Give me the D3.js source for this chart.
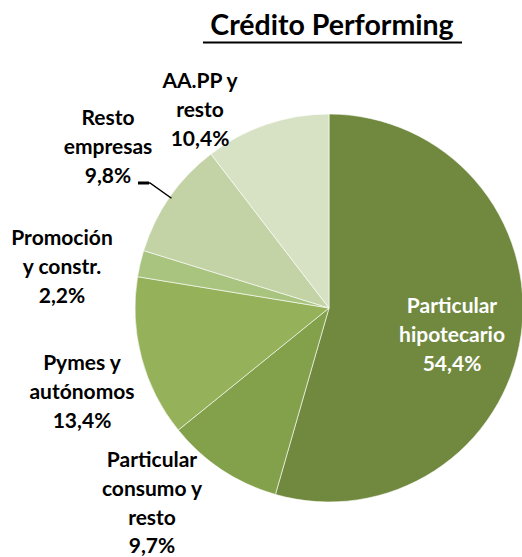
<!DOCTYPE html>
<html>
<head>
<meta charset="utf-8">
<script src="https://cdn.jsdelivr.net/npm/d3@7"></script>
<style>
  body { margin: 0; background: #fff; }
  text { font-family: Lato, "Open Sans", sans-serif; font-weight: bold; }
</style>
</head>
<body>
<div id="chart"></div>
<script>
// datos
const categorias = ["Particular hipotecario", "Particular consumo y resto", "Pymes y autónomos",
                    "Promoción y constr.", "Resto empresas", "AA.PP y resto"];
const valores = [54.4, 9.7, 13.4, 2.2, 9.8, 10.4];
const etiquetas = [
    ["Particular", "hipotecario"],
    ["Particular", "consumo y", "resto"],
    ["Pymes y", "autónomos"],
    ["Promoción", "y constr."],
    ["Resto", "empresas"],
    ["AA.PP y", "resto"]
];
const colores = ["#71893F", "#83A04B", "#95B25A", "#A9C47E", "#C3D3A5", "#D7E2C4"];

// layout
const W = 522, H = 557;
const cx = 329, cy = 308, r = 194;
const lineH = 28.8;
// posición de cada etiqueta respecto al centro (centro x, primera línea base)
const labelPos = [[123, 5], [-177, 159], [-247, 62], [-267, -63], [-221, -183], [-129, -220]];

const svg = d3.select("#chart").append("svg")
    .attr("width", W)
    .attr("height", H);

// título
svg.append("text")
    .attr("x", 332)
    .attr("y", 35)
    .attr("text-anchor", "middle")
    .style("font-size", "28.5px")
    .style("fill", "#000")
    .text("Crédito Performing");

svg.append("line")
    .attr("x1", 203).attr("x2", 462)
    .attr("y1", 42.5).attr("y2", 42.5)
    .attr("stroke", "#000")
    .attr("stroke-width", 2);

const data = categorias.map((c, i) => ({ cat: c, value: valores[i], lines: etiquetas[i], i }));

const pie = d3.pie().sort(null).value(d => d.value);
const arc = d3.arc().innerRadius(0).outerRadius(r);

const g = svg.append("g").attr("transform", `translate(${cx},${cy})`);

g.selectAll("path")
    .data(pie(data))
    .enter()
    .append("path")
    .attr("d", arc)
    .attr("fill", d => colores[d.data.i])
    .attr("stroke", "#fff")
    .attr("stroke-width", 0.6);

const fmt = v => d3.format(".1f")(v).replace(".", ",") + "%";

// etiquetas
const lab = g.selectAll(".lab")
    .data(data)
    .enter()
    .append("text")
    .attr("class", "lab")
    .attr("text-anchor", "middle")
    .style("font-size", "21px")
    .style("fill", d => d.i === 0 ? "#fff" : "#000")
    .attr("transform", d => `translate(${labelPos[d.i][0]},${labelPos[d.i][1]})`);

lab.each(function(d) {
    const t = d3.select(this);
    d.lines.concat([fmt(d.value)]).forEach((s, k) => {
        t.append("tspan").attr("x", 0).attr("y", k * lineH).text(s);
    });
});

// línea guía de "Resto empresas"
const a4 = pie(data)[4];
const mid = (a4.startAngle + a4.endAngle) / 2;
const pEdge = [Math.sin(mid) * (r - 2), -Math.cos(mid) * (r - 2)];
g.append("path")
    .attr("d", d3.line()([[-191, -125], [-179, -125], pEdge]))
    .attr("fill", "none")
    .attr("stroke", "#000")
    .attr("stroke-width", 1.5);
g.append("line")
    .attr("x1", -191).attr("x2", -180)
    .attr("y1", -125).attr("y2", -125)
    .attr("stroke", "#000")
    .attr("stroke-width", 3);
</script>
</body>
</html>
